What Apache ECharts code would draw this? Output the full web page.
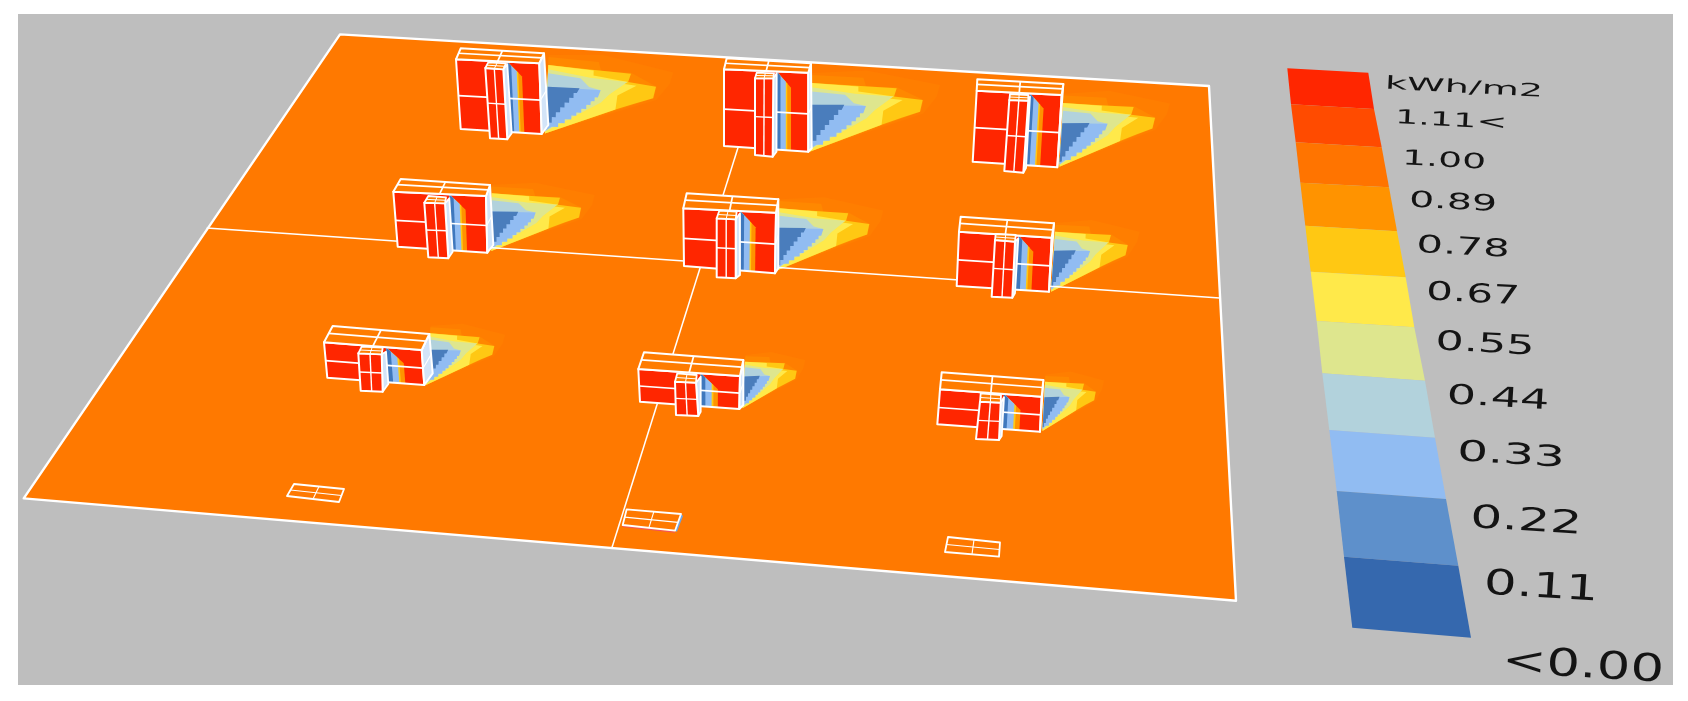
<!DOCTYPE html>
<html>
<head>
<meta charset="utf-8">
<title>kWh/m2</title>
<style>
  html, body { margin: 0; padding: 0; background: #fff; }
  #main { width: 1688px; height: 701px; }
</style>
<script src="https://cdn.jsdelivr.net/npm/echarts@6/dist/echarts.min.js"></script>
</head>
<body>
<div id="main"></div>
<script>
var backdrop = [[18, 14], [1673, 14], [1673, 685], [18, 685]]
var groundPlane = [[340, 34.4], [1209, 86], [1236, 600.7], [23.7, 498.4]]
var dividerEastWest = [[206.7, 228], [1219.7, 298]]
var dividerNorthSouth = [[765, 62], [611.5, 549]]

// legend
var legendLeftEdge = [[1287.3, 68.3], [1291, 104.3], [1295.7, 142.3], [1300.3, 182.7], [1305.3, 225.7], [1310.7, 271.7], [1316.7, 321], [1322.3, 373.3], [1329.3, 430], [1336.7, 491], [1344, 556.7], [1352.3, 627.7]]
var legendRightEdge = [[1368.3, 72.7], [1374, 109], [1381.7, 147.3], [1389, 187.3], [1397, 231.3], [1405.7, 277.3], [1414.3, 327.3], [1425, 380.7], [1435, 437.7], [1446, 499], [1458.3, 565.7], [1471, 637.7]]
var legendColors = ['#FF2600', '#FF4B00', '#FF7400', '#FF9300', '#FFC813', '#FFE94A', '#DEE68E', '#B2D2DC', '#91BCF2', '#5E90CB', '#3568AE']
var legendLabels = ['kWh/m2', '1.11<', '1.00', '0.89', '0.78', '0.67', '0.55', '0.44', '0.33', '0.22', '0.11', '<0.00']
var labelCenters = [[1464, 88], [1451, 121], [1444, 161], [1453, 203], [1463, 248], [1473, 295], [1485, 345], [1498, 399], [1511, 456], [1526, 522], [1541, 588], [1583, 667]]
var labelFontSizes = [18, 19.5, 21, 22.5, 24.5, 26, 27, 27.5, 29, 32, 35, 38]
var labelStretch = [2.12, 1.88, 1.8, 1.76, 1.71, 1.62, 1.65, 1.68, 1.67, 1.57, 1.47, 1.39]
var labelTilt = [3, 3, 3, 3, 3, 3.1, 3.2, 3.3, 3.4, 3.5, 3.6, 3.4]

// nine buildings, top row first: wall corners TL, TR, BR, BL
var wallQuads = [
  [[456, 59.3], [539.3, 63.3], [541.7, 134], [460.7, 129]],
  [[724, 69.3], [808.3, 72.7], [808.3, 151.7], [724, 146]],
  [[976.7, 90.7], [1061.7, 95], [1057.3, 167.3], [972.7, 161.7]],
  [[393.3, 191.7], [486, 196], [487.3, 252.7], [397.7, 246.7]],
  [[683.3, 208.3], [776, 212.7], [775, 273.3], [684, 266]],
  [[959, 231.7], [1051.7, 237.7], [1049, 291.7], [956.7, 286]],
  [[324, 342.3], [421.7, 350], [424.3, 385], [327.3, 377.7]],
  [[638.3, 369], [740, 376], [739.3, 409], [640, 401.7]],
  [[940, 389.3], [1041.7, 396.7], [1040, 431.7], [937.3, 424.3]]
]
// roof back left, roof back right, bottom of the far side
var roofBacks = [
  [[460.7, 48.3], [544, 53.3], [548.3, 125]],
  [[726.7, 58.3], [811, 63.3], [811.7, 148.3]],
  [[977.3, 79.3], [1063.3, 84], [1057.3, 167.3]],
  [[400.7, 179], [490, 185], [493.3, 245]],
  [[686.7, 193.3], [778.3, 199.3], [778.3, 268.3]],
  [[960.7, 216.7], [1054, 223.3], [1049, 291.7]],
  [[332.7, 326], [429.3, 334], [432.7, 373.3]],
  [[644, 352.3], [743.3, 360], [743.3, 405]],
  [[941.7, 372.3], [1043.3, 380], [1040, 431.7]]
]
var towerQuads = [
  [[485.3, 68], [503.3, 69.3], [507.3, 139.3], [490, 138.3]],
  [[755, 78.3], [773.3, 78.3], [772.7, 156.7], [755, 155]],
  [[1009.3, 100], [1028.3, 100.7], [1023.3, 172.7], [1004.3, 171]],
  [[424.3, 202.7], [445, 203.3], [448.3, 258.3], [428.3, 257.3]],
  [[716.7, 218.3], [735.7, 219.3], [735.7, 278.3], [716.7, 277.3]],
  [[995, 240], [1015, 241.7], [1012.3, 297.7], [991.7, 296.7]],
  [[358.3, 353.3], [381.7, 354.3], [382.7, 391.7], [360.7, 390.7]],
  [[675, 381.7], [696, 382.7], [698.3, 416], [676, 415]],
  [[980, 401.7], [1000.7, 402.7], [999, 440], [976, 439]]
]
// tower roof back left, back right, side back top, side back bottom
var towerBacks = [
  [[488.3, 62.3], [506, 63.3], [507.3, 64.3], [511.7, 133.3]],
  [[756.7, 72.7], [774, 73.3], [776.7, 73.3], [776.5, 151.7]],
  [[1010, 94], [1028.3, 95], [1030, 96.7], [1026, 168]],
  [[428.3, 196], [446, 197.3], [449.3, 198.3], [452.7, 251.7]],
  [[719.3, 210.7], [736.7, 211.7], [740, 213.3], [740, 275]],
  [[995.7, 234], [1015.7, 235], [1018.3, 238.3], [1015, 293.3]],
  [[361.7, 346.7], [382.7, 347.7], [386, 351.7], [388.3, 384]],
  [[677.3, 373.3], [696.7, 375], [700.7, 376.7], [700.7, 411.7]],
  [[980.7, 393.3], [1001, 395], [1004, 397.3], [1001.7, 436]]
]
// how far the cast shadow drops on the wall, as a share of the wall height
var wallShadowDrop = [0.2, 0.2, 0.2, 0.26, 0.26, 0.28, 0.42, 0.45, 0.42]
// ground shadow: foot, top, far tip
var shadowFrames = [
  [[543.3, 133.3], [548.3, 65], [656, 86.7]],
  [[808, 151.7], [811.7, 83], [922.7, 100]],
  [[1058, 166.7], [1063, 103], [1155, 117.7]],
  [[490, 251], [491.7, 193.3], [581, 207.7]],
  [[776.7, 270], [779.3, 208.3], [869.3, 224]],
  [[1050, 291.7], [1055, 231.7], [1127.7, 245]],
  [[425, 385], [430, 333.3], [494.3, 346]],
  [[741.7, 408.3], [745, 361.7], [796.7, 370.7]],
  [[1041.7, 431], [1045, 381.7], [1095.7, 391.7]]
]

// contour bands of one shadow, traced on the top middle building, outermost first
var shadowTraceFrame = [[295, 305], [305, 100], [638, 150]]
var shadowColors = ['#FF7E00', '#FF8800', '#FFC813', '#FFE94A', '#DEE68E', '#B2D2DC', '#91BCF2', '#4A7DBC']
var shadowBands = [
  [[300, 305], [306, 70], [470, 62], [690, 105], [680, 140], [640, 190]],
  [[300, 305], [305, 76], [460, 84], [468, 110], [560, 112], [640, 150], [632, 185]],
  [[300, 305], [305, 100], [440, 108], [560, 115], [552, 140], [638, 150], [630, 185], [575, 203], [515, 224]],
  [[300, 305], [305, 100], [445, 110], [445, 125], [552, 140], [530, 145], [578, 150], [520, 182], [515, 224]],
  [[300, 300], [305, 113], [435, 132], [550, 140], [495, 180], [470, 205]],
  [[300, 298], [305, 125], [405, 135], [432, 160], [468, 168], [440, 205]],
  [[300, 298], [305, 165], [468, 168], [460, 190], [450, 190], [450, 202], [438, 202], [438, 214], [425, 214], [425, 226], [410, 226], [410, 238], [395, 238], [395, 248], [380, 248], [380, 260], [360, 260], [360, 272], [340, 272], [340, 284], [320, 284]],
  [[300, 290], [305, 165], [403, 165], [395, 180], [385, 180], [385, 195], [372, 195], [372, 210], [358, 210], [358, 225], [345, 225], [345, 240], [332, 240], [332, 255], [320, 255], [320, 272], [308, 272], [308, 288]]
]
// stripes on the wall right of the tower, width as a share of the wall
var wallStripeColors = ['#FF9300', '#FFC813', '#91BCF2', '#3F78BD']
var wallStripeWidths = [0.17, 0.125, 0.108, 0.045]

// flat frames lying on the ground
var groundFrames = [
  [[294, 484], [344, 489], [339, 502], [287, 496]],
  [[626.7, 509.3], [681, 514], [675, 530.7], [622.7, 525]],
  [[948, 537], [1000, 542.5], [999, 556.6], [945, 552]]
]

var RED = '#FF2600'
var ROOF = '#FF7C00'
var PALE = '#D3E4F8'
var WHITE = '#FFFFFF'
var shapes = []

function add(points, fill, stroke, width) {
  shapes.push({ points: points, fill: fill, stroke: stroke || null, width: width || 0 })
}
function mix(a, b, t) {
  return [a[0] + (b[0] - a[0]) * t, a[1] + (b[1] - a[1]) * t]
}
// point inside a quad given as TL, TR, BR, BL
function inQuad(q, u, v) {
  return mix(mix(q[0], q[1], u), mix(q[3], q[2], u), v)
}
function line(a, b, width) {
  add([a, b], null, WHITE, width || 1.7)
}

// carries a traced shadow point over to another building's frame
function frameMap(p, frame) {
  var o = shadowTraceFrame[0]
  var ux = shadowTraceFrame[2][0] - o[0], uy = shadowTraceFrame[2][1] - o[1]
  var vx = shadowTraceFrame[1][0] - o[0], vy = shadowTraceFrame[1][1] - o[1]
  var det = ux * vy - uy * vx
  var dx = p[0] - o[0], dy = p[1] - o[1]
  var s = (dx * vy - dy * vx) / det
  var t = (ux * dy - uy * dx) / det
  return [
    frame[0][0] + s * (frame[2][0] - frame[0][0]) + t * (frame[1][0] - frame[0][0]),
    frame[0][1] + s * (frame[2][1] - frame[0][1]) + t * (frame[1][1] - frame[0][1])
  ]
}

add(backdrop, '#BEBEBE')
add(groundPlane, '#FF7900')

shadowFrames.forEach(function (frame) {
  shadowBands.forEach(function (band, k) {
    add(band.map(function (p) { return frameMap(p, frame) }), shadowColors[k])
  })
})

line(dividerEastWest[0], dividerEastWest[1], 1.5)
line(dividerNorthSouth[0], dividerNorthSouth[1], 1.5)
add(groundPlane, null, WHITE, 2.4)

groundFrames.forEach(function (q, i) {
  if (i === 1) {
    add([q[1], [q[1][0] + 2, q[1][1] + 2], [q[2][0] + 2, q[2][1] + 1], q[2]], '#6FA5E6')
    line([q[3][0], q[3][1] + 1.5], [q[2][0], q[2][1] + 1.5], 1)
    shapes[shapes.length - 1].stroke = '#F0506A'
  }
  add(q, null, WHITE, 1.8)
  line(mix(q[0], q[3], 0.5), mix(q[1], q[2], 0.5), 1.1)
  line(mix(q[0], q[1], 0.5), mix(q[3], q[2], 0.5), 1.1)
})

wallQuads.forEach(function (wall, i) {
  var back = roofBacks[i], tower = towerQuads[i], tBack = towerBacks[i]
  // wall with the tower's shadow on it
  add(wall, RED)
  var start = (tBack[2][0] - wall[0][0]) / (wall[1][0] - wall[0][0])
  wallStripeColors.forEach(function (color, k) {
    var w = wallStripeWidths[k]
    var drop = wallShadowDrop[i] * w / wallStripeWidths[0]
    add([inQuad(wall, start, 0), inQuad(wall, start + w, drop), inQuad(wall, start + w, 1), inQuad(wall, start, 1)], color)
  })
  line(inQuad(wall, 0, 0.52), inQuad(wall, 1, 0.52))
  add(wall, null, WHITE, 2)
  // far side and roof
  add([wall[1], back[1], back[2], wall[2]], PALE, WHITE, 2)
  line(mix(wall[1], wall[2], 0.52), mix(back[1], back[2], 0.52), 1.2)
  var roof = [wall[0], wall[1], back[1], back[0]]
  add(roof, ROOF, WHITE, 2)
  line(inQuad(roof, 0, 0.55), inQuad(roof, 1, 0.55))
  line(inQuad(roof, 0.5, 0), inQuad(roof, 0.5, 1))
  // tower in front
  add([tower[1], tBack[2], tBack[3], tower[2]], PALE, WHITE, 1.8)
  add(tower, RED, WHITE, 2)
  line(inQuad(tower, 0.5, 0), inQuad(tower, 0.5, 1), 1.4)
  line(inQuad(tower, 0, 0.5), inQuad(tower, 1, 0.5), 1.4)
  var tRoof = [tower[0], tower[1], tBack[1], tBack[0]]
  add(tRoof, ROOF, WHITE, 1.8)
  line(inQuad(tRoof, 0, 0.5), inQuad(tRoof, 1, 0.5), 1)
  line(inQuad(tRoof, 0.5, 0), inQuad(tRoof, 0.5, 1), 1)
})

legendColors.forEach(function (color, i) {
  add([legendLeftEdge[i], legendRightEdge[i], legendRightEdge[i + 1], legendLeftEdge[i + 1]], color)
})

var chart = echarts.init(document.getElementById('main'))
chart.setOption({
  animation: false,
  grid: { left: 0, right: 0, top: 0, bottom: 0 },
  xAxis: { type: 'value', min: 0, max: 1688, show: false },
  yAxis: { type: 'value', min: 0, max: 701, inverse: true, show: false },
  tooltip: { show: false },
  series: [
    {
      type: 'custom',
      silent: true,
      clip: false,
      data: shapes.map(function (s, i) { return [i] }),
      renderItem: function (params, api) {
        var s = shapes[params.dataIndex]
        var pts = s.points.map(function (p) { return api.coord(p) })
        return {
          type: pts.length > 2 ? 'polygon' : 'polyline',
          shape: { points: pts },
          style: {
            fill: s.fill || 'none',
            stroke: s.stroke || 'none',
            lineWidth: s.width,
            lineJoin: 'round'
          }
        }
      }
    },
    {
      type: 'custom',
      silent: true,
      clip: false,
      data: legendLabels.map(function (t, i) { return [labelCenters[i][0], labelCenters[i][1]] }),
      renderItem: function (params, api) {
        var i = params.dataIndex
        var c = api.coord([api.value(0), api.value(1)])
        return {
          type: 'text',
          x: c[0],
          y: c[1],
          rotation: -labelTilt[i] * Math.PI / 180,
          scaleX: labelStretch[i],
          style: {
            text: legendLabels[i],
            fontFamily: 'DejaVu Sans',
            fontSize: labelFontSizes[i],
            fill: '#141414',
            textAlign: 'center',
            textVerticalAlign: 'middle'
          }
        }
      }
    }
  ]
})
</script>
</body>
</html>
